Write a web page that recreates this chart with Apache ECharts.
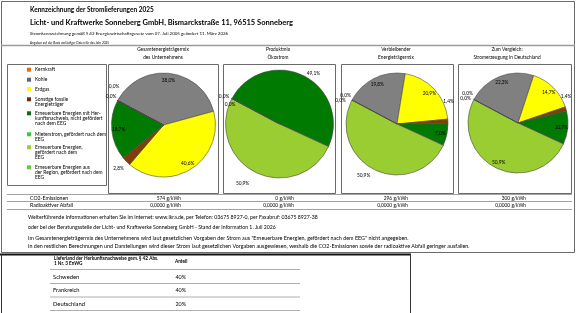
<!DOCTYPE html>
<html>
<head>
<meta charset="utf-8">
<script src="https://cdn.jsdelivr.net/npm/echarts@6/dist/echarts.min.js"></script>
<style>
  html, body { margin: 0; padding: 0; background: #fff; }
  #chart { width: 576px; height: 313px; }
</style>
</head>
<body>
<div id="chart"></div>
<script>
// Energieträger (Legende)
const categories = [
  'Kernkraft',
  'Kohle',
  'Erdgas',
  'Sonstige fossile\nEnergieträger',
  'Erneuerbare Energien mit Her-\nkunftsnachweis, nicht gefördert\nnach dem EEG',
  'Mieterstrom, gefördert nach dem\nEEG',
  'Erneuerbare Energien,\ngefördert nach dem\nEEG',
  'Erneuerbare Energien aus\nder Region, gefördert nach dem\nEEG'
]
const colors = ['#E46C0A', '#808080', '#FFFF00', '#843C0C', '#007A00', '#33CC33', '#9ACD32', '#66CC33']
const legendColors = ['#E46C0A', '#5F6474', '#FFFF00', '#6B2A0A', '#0A6A1A', '#33CC33', '#9ACD32', '#66CC33']

// Anteile in %
const mixUnternehmen = [0, 38.0, 40.6, 2.8, 18.7, 0, 0, 0]
const mixOekostrom = [0, 0, 0, 0, 49.1, 0, 50.9, 0]
const mixVerbleibend = [0, 19.8, 20.9, 1.4, 7.0, 0, 50.9, 0]
const mixDeutschland = [0, 22.3, 14.7, 1.4, 10.7, 0, 50.9, 0]

const pieTitles = [
  ['Gesamtenergieträgermix', 'des Unternehmens'],
  ['Produktmix', 'Ökostrom'],
  ['Verbleibender', 'Energieträgermix'],
  ['Zum Vergleich:', 'Stromerzeugung in Deutschland']
]

const co2Werte = ['574 g/kWh', '0 g/kWh', '296 g/kWh', '300 g/kWh']
const abfallWerte = ['0,0000 g/kWh', '0,0000 g/kWh', '0,0000 g/kWh', '0,0000 g/kWh']

const laender = ['Schweden', 'Frankreich', 'Deutschland']
const anteile = ['40%', '40%', '20%']

// label placement per slice: i = inside, o = outside, '' = none
const labelModes = [
  ['o', 'i', 'i', 'o', 'i', '', '', 'o'],
  ['o', '', '', '', 'o', '', 'o', 'o'],
  ['o', 'i', 'i', 'o', 'i', '', 'o', 'o'],
  ['o', 'i', 'i', 'o', 'i', '', 'i', 'o']
]
// small label shifts (like Excel's "best fit")
const labelNudges = [
  { 0: [6, -9], 7: [3, 1] },
  { 0: [2, 3], 7: [8, 11], 4: [5, 8], 6: [-8, 1] },
  { 0: [3, 0], 7: [-2, 5.5], 3: [-10, -19], 6: [-6, -3.5] },
  { 0: [3, -1], 7: [1, 4], 3: [-10, -10] }
]

const FONT = 'Lato, "Open Sans", sans-serif'
const chart = echarts.init(document.getElementById('chart'))

const pies = [
  { values: mixUnternehmen, cx: 163.5, cy: 125, r: 52, box: [108, 218], titleX: 163 },
  { values: mixOekostrom, cx: 279.5, cy: 124, r: 54, box: [223, 335], titleX: 278 },
  { values: mixVerbleibend, cx: 397, cy: 124, r: 51, box: [341, 453], titleX: 396 },
  { values: mixDeutschland, cx: 518, cy: 123, r: 50, box: [458, 571], titleX: 507 }
]
const rings = { i: [0.62, 1.0], o: [1.05, 1.25] }

const fmt = v => v.toFixed(1).replace('.', ',') + '%'

const series = []
pies.forEach((p, k) => {
  series.push({
    type: 'pie',
    center: [p.cx, p.cy],
    radius: [0, p.r],
    startAngle: 152,
    silent: true,
    animation: false,
    label: { show: false },
    labelLine: { show: false },
    itemStyle: { borderColor: '#4a4a4a', borderWidth: 0.6 },
    data: p.values.map((v, i) => ({ name: categories[i], value: v, itemStyle: { color: colors[i] } }))
  })
  // transparent rings only used to place the labels
  Object.keys(rings).forEach(mode => {
    series.push({
      type: 'pie',
      center: [p.cx, p.cy],
      radius: [p.r * rings[mode][0], p.r * rings[mode][1]],
      startAngle: 152,
      silent: true,
      animation: false,
      avoidLabelOverlap: false,
      itemStyle: { color: 'rgba(0,0,0,0)', borderWidth: 0 },
      label: {
        position: 'inside',
        color: '#000',
        fontSize: 4.8,
        fontFamily: FONT,
        formatter: d => fmt(d.value)
      },
      labelLine: { show: false },
      labelLayout: params => {
        const n = labelNudges[k][params.dataIndex]
        return n ? { dx: n[0], dy: n[1] } : {}
      },
      data: p.values.map((v, i) => ({
        name: categories[i],
        value: v,
        label: { show: labelModes[k][i] === mode }
      }))
    })
  })
})

const graphic = []
const txt = (x, y, text, size, opts = {}) => graphic.push({
  type: 'text', x, y, silent: true,
  style: {
    text, fill: '#000', align: opts.align || 'left', verticalAlign: 'middle',
    font: (opts.bold ? 'bold ' : '') + size + 'px ' + FONT
  }
})
const line = (x1, y1, x2, y2, stroke, w) => graphic.push({
  type: 'line', silent: true, shape: { x1, y1, x2, y2 }, style: { stroke, lineWidth: w }
})
const box = (x1, y1, x2, y2) => graphic.push({
  type: 'rect', silent: true, z: -1,
  shape: { x: x1, y: y1, width: x2 - x1, height: y2 - y1 },
  style: { fill: 'none', stroke: '#6a6a6a', lineWidth: 1 }
})

// frame + header
box(1.5, 1.5, 574.5, 252.5)
txt(30, 10, 'Kennzeichnung der Stromlieferungen 2025', 6.5, { bold: true })
txt(30, 23, 'Licht- und Kraftwerke Sonneberg GmbH, Bismarckstraße 11, 96515 Sonneberg', 7.5, { bold: true })
txt(30, 34, 'Stromkennzeichnung gemäß § 42 Energiewirtschaftsgesetz vom 07. Juli 2005 geändert 11. März 2026', 4.45)
txt(30, 42.5, 'Angaben auf der Basis vorläufiger Daten für das Jahr 2025', 3.1)
line(1, 45.5, 575, 45.5, '#9a9a9a', 1.5)

// legend
box(7.5, 64.5, 106.5, 185.5)
const legendY = [69.7, 79.7, 89, 99.3, 113.3, 134.3, 147.3, 167.3]
const legendLine = 5.3
categories.forEach((c, i) => {
  graphic.push({
    type: 'rect', silent: true,
    shape: { x: 27, y: legendY[i] - 2, width: 4, height: 4 },
    style: { fill: legendColors[i] }
  })
  graphic.push({
    type: 'text', x: 35, y: legendY[i] - legendLine / 2, silent: true,
    style: { text: c, fill: '#000', font: '4.9px ' + FONT, lineHeight: legendLine, verticalAlign: 'top' }
  })
})

// pie boxes + titles
pies.forEach((p, k) => {
  box(p.box[0] + 0.5, 64.5, p.box[1] + 0.5, 193.5)
  txt(p.titleX, 49.5, pieTitles[k][0], 4.8, { align: 'center' })
  txt(p.titleX, 57, pieTitles[k][1], 4.8, { align: 'center' })
})

// CO2 / Abfall table
line(7, 194.5, 572, 194.5, '#8a8a8a', 0.8)
line(7, 201.5, 572, 201.5, '#8a8a8a', 0.8)
line(7, 209.5, 572, 209.5, '#8a8a8a', 0.8)
txt(30, 198, 'CO2-Emissionen', 5.2)
txt(30, 205.5, 'Radioaktiver Abfall', 5.2)
const valueRight = [181, 294, 408, 526]
co2Werte.forEach((v, i) => txt(valueRight[i], 198, v, 4.8, { align: 'right' }))
abfallWerte.forEach((v, i) => txt(valueRight[i], 205.5, v, 4.8, { align: 'right' }))

// footer notes
txt(28, 217, 'Weiterführende Informationen erhalten Sie im Internet: www.lkra.de, per Telefon: 03675 8927-0, per Faxabruf: 03675 8927-38', 5.2)
txt(28, 227, 'oder bei der Beratungsstelle der Licht- und Kraftwerke Sonneberg GmbH - Stand der Information 1. Juli 2026', 5.2)
txt(28, 238, 'Im Gesamtenergieträgermix des Unternehmens wird laut gesetzlichen Vorgaben der Strom aus "Erneuerbare Energien, gefördert nach dem EEG" nicht angegeben.', 5.4)
txt(28, 246, 'In den restlichen Berechnungen und Darstellungen wird dieser Strom laut gesetzlichen Vorgaben ausgewiesen, weshalb die CO2-Emissionen sowie der radioaktive Abfall geringer ausfallen.', 5.4)

// Herkunftsnachweise table
line(0, 254.5, 411, 254.5, '#111', 2)
line(1.5, 254, 1.5, 313, '#333', 1)
line(410.5, 254, 410.5, 313, '#333', 1)
txt(54, 258.5, 'Lieferland der Herkunftsnachweise gem. § 42 Abs.', 4.7, { bold: true })
txt(54, 263.5, '1 Nr. 3 EnWG', 4.7, { bold: true })
txt(175, 261.5, 'Anteil', 4.7, { bold: true })
line(50, 269.5, 300, 269.5, '#999', 0.8)
const rowY = [277, 290.5, 304]
laender.forEach((l, i) => {
  txt(53, rowY[i], l, 5.8)
  txt(186, rowY[i], anteile[i], 5.4, { align: 'right' })
  line(50, rowY[i] + 6.5, 300, rowY[i] + 6.5, '#999', 0.8)
})

chart.setOption({
  backgroundColor: '#fff',
  animation: false,
  graphic,
  series
})
window.addEventListener('resize', () => chart.resize())
</script>
</body>
</html>
